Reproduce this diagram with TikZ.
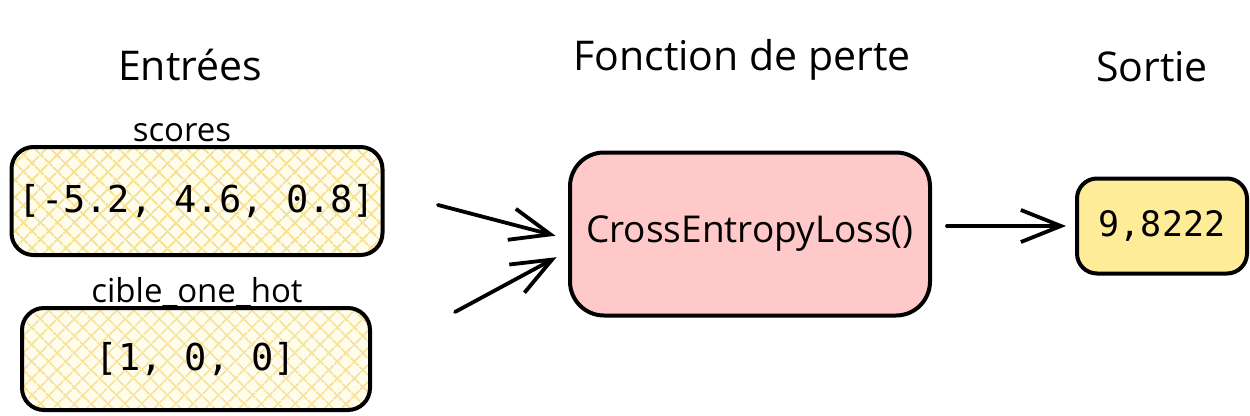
\documentclass[tikz,border=0pt]{standalone}
\usepackage{fontspec}
\setmainfont{Open Sans}
\newfontfamily\codefont{DejaVu Sans Mono}
\usetikzlibrary{arrows.meta,patterns.meta}
\definecolor{hatchbg}{HTML}{FFFCEC}
\definecolor{hatchln}{HTML}{F6E39A}
\definecolor{losspink}{HTML}{FFC9C9}
\definecolor{outyellow}{HTML}{FFEC99}
\begin{document}
\begin{tikzpicture}[x=1pt, y=-1pt, line cap=round, line join=round, >={Straight Barb[length=40pt,width=32pt]}]
	\tikzset{title/.style={font=\fontsize{41}{46}\selectfont},
		tag/.style={font=\fontsize{33}{38}\selectfont},
		inbox/.style={draw, line width=4pt, rounded corners=22pt, inner sep=0pt,
			preaction={fill=hatchbg},
			preaction={pattern={Lines[angle=45,distance=13pt,line width=2pt]}, pattern color=hatchln},
			preaction={pattern={Lines[angle=-45,distance=13pt,line width=2pt]}, pattern color=hatchln},
			font=\codefont\fontsize{37}{42}\selectfont},
		flow/.style={->, line width=3.8pt}}
	\useasboundingbox (0,0) rectangle (1250,415);
	% titres
	\node[title] (tin) at (190,65) {Entrées};
	\node[title] (tloss) at (742,60) {Fonction de perte};
	\node[title] (tout) at (1152,67) {Sortie};
	% entrees
	\node[tag] (lscores) at (182,133) {scores};
	\node[inbox, minimum width=371pt, minimum height=108pt] (scores) at (197,201) {[-5.2, 4.6, 0.8]};
	\node[tag] (lcible) at (197,292) {cible\_one\_hot};
	\node[inbox, minimum width=348pt, minimum height=102pt] (cible) at (196,359) {[1, 0, 0]};
	% perte et sortie
	\node[draw, line width=4pt, rounded corners=34pt, fill=losspink, minimum width=360pt, minimum height=163pt,
		font=\fontsize{37}{42}\selectfont] (loss) at (750,234) {CrossEntropyLoss()};
	\node[draw, line width=4pt, rounded corners=20pt, fill=outyellow, minimum width=170pt, minimum height=95pt,
		font=\codefont\fontsize{35}{40}\selectfont] (out) at (1162,226) {9,8222};
	% fleches
	\coordinate (a1) at (438,205);
	\coordinate (a2) at (455,312);
	\draw[flow, shorten >=13pt] (a1) -- ([yshift=-5pt]loss.west);
	\draw[flow, shorten >=13pt] (a2) -- ([yshift=-17pt]loss.west);
	\draw[flow, shorten <=15pt, shorten >=9pt] (loss.east |- out.west) -- (out.west);
\end{tikzpicture}
\end{document}
